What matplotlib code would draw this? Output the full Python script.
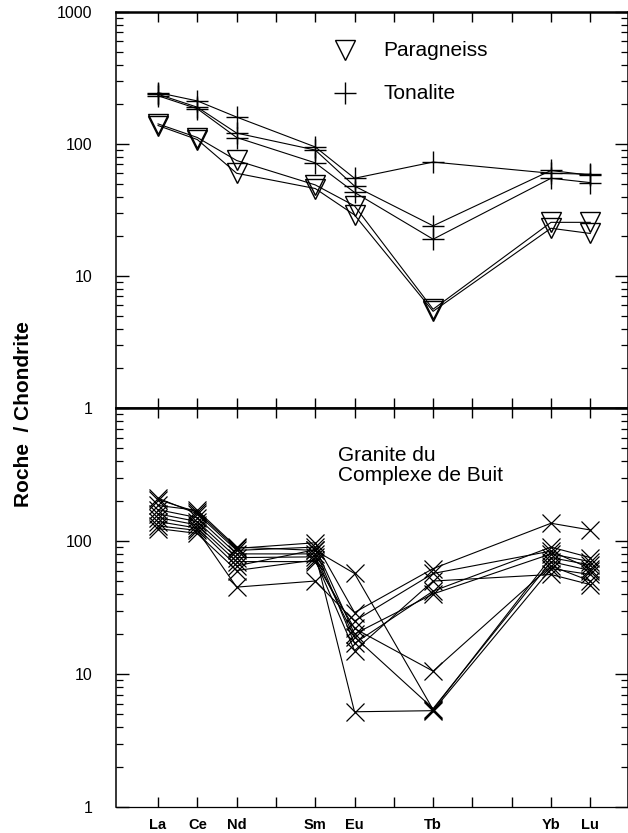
import matplotlib
matplotlib.use("Agg")
import matplotlib.pyplot as plt
from matplotlib.ticker import LogLocator, NullFormatter, FixedLocator

plt.rcParams['font.family'] = ['Liberation Sans', 'DejaVu Sans']

# REE elements and their slot along the normalised pattern axis
elements = ["La", "Ce", "Nd", "Sm", "Eu", "Tb", "Yb", "Lu"]
slots = [0, 1, 2, 4, 5, 7, 10, 11]

# Chondrite-normalised values
paragneiss = [
    [142, 112, 75, 49, 34, 5.6, 25.5, 25.5],
    [138, 108, 60, 46, 29, 5.4, 23, 21],
]
tonalite = [
    [245, 212, 160, 95, 55, 73, 60, 59],
    [238, 190, 121, 90, 48, 24, 63, 58],
    [232, 185, 112, 72, 43, 19, 55, 51],
]
granite = [
    [205, 165, 88, 97, 29, 62, 136, 121],
    [185, 170, 90, 85, 57, 5.4, 75, 66],
    [172, 150, 80, 80, 5.2, 5.3, 62, 56],
    [160, 140, 75, 76, 19, 5.5, 70, 60],
    [150, 132, 70, 70, 22, 10.5, 65, 50],
    [140, 125, 65, 86, 17, 42, 90, 75],
    [130, 120, 45, 50, 25, 57, 84, 62],
    [124, 114, 60, 72, 15, 50, 56, 47],
    [210, 160, 85, 90, 20, 40, 80, 70],
]

fig = plt.figure(figsize=(6.28, 8.33), dpi=100)
left, width = 116 / 628, 512 / 628
ax1 = fig.add_axes([left, 1 - 408 / 833, width, 396 / 833])
ax2 = fig.add_axes([left, 1 - 807 / 833, width, 399 / 833])

lw = 0.8
for s in paragneiss:
    ax1.plot(slots, s, color="black", lw=lw, marker="v", ms=14,
             mfc="none", mec="black", mew=1.0)
for s in tonalite:
    ax1.plot(slots, s, color="black", lw=lw, marker="+", ms=16,
             mec="black", mew=1.0)
for s in granite:
    ax2.plot(slots, s, color="black", lw=lw, marker="x", ms=13,
             mec="black", mew=0.9)

for ax in (ax1, ax2):
    ax.set_yscale("log")
    ax.set_ylim(1, 1000)
    ax.set_xlim(-1.07, 11.96)
    ax.xaxis.set_major_locator(FixedLocator(range(0, 12)))
    ax.yaxis.set_minor_locator(LogLocator(base=10, subs=range(2, 10), numticks=20))
    ax.yaxis.set_minor_formatter(NullFormatter())
    ax.tick_params(axis="x", which="both", direction="in", top=True, bottom=True,
                   length=7, width=1.0)
    ax.tick_params(axis="y", which="major", direction="in", left=True, right=True,
                   length=9.5, width=1.0, labelsize=11.5, pad=17)
    ax.tick_params(axis="y", which="minor", direction="in", left=True, right=True,
                   length=5, width=0.9)
    for sp in ax.spines.values():
        sp.set_linewidth(1.1)

ax1.spines["top"].set_linewidth(1.8)
ax1.spines["bottom"].set_linewidth(1.8)
ax2.spines["top"].set_linewidth(1.8)
ax2.spines["bottom"].set_linewidth(0.9)

ax1.set_yticks([1, 10, 100, 1000])
ax1.set_yticklabels(["1", "10", "100", "1000"])
ax1.set_xticklabels([])

ax2.set_yticks([1, 10, 100, 1000])
ax2.set_yticklabels(["1", "10", "100", ""])

# element labels on the bottom axis
tick_labels = [""] * 12
for el, sl in zip(elements, slots):
    tick_labels[sl] = el
ax2.set_xticks(range(12))
ax2.set_xticklabels(tick_labels, fontsize=10.5, fontweight="bold",
                    family=["Liberation Sans Narrow", "Liberation Sans"])
ax2.tick_params(axis="x", pad=8)

# legend of the upper panel
ax1.plot([0.447], [0.903], transform=ax1.transAxes, marker="v", ms=14,
         mfc="none", mec="black", mew=1.0, ls="none", clip_on=False)
ax1.plot([0.447], [0.795], transform=ax1.transAxes, marker="+", ms=16,
         mec="black", mew=1.0, ls="none", clip_on=False)
ax1.text(0.522, 0.903, "Paragneiss", transform=ax1.transAxes, fontsize=15,
         va="center", ha="left")
ax1.text(0.522, 0.795, "Tonalite", transform=ax1.transAxes, fontsize=15,
         va="center", ha="left")

ax2.text(0.434, 0.905, "Granite du\nComplexe de Buit", transform=ax2.transAxes,
         fontsize=15, va="top", ha="left", linespacing=1.1)

fig.text(0.037, 1 - 414 / 833, "Roche  / Chondrite", rotation=90, fontsize=15,
         fontweight="bold", va="center", ha="center")

fig.savefig("out.png", dpi=100, facecolor="white")
